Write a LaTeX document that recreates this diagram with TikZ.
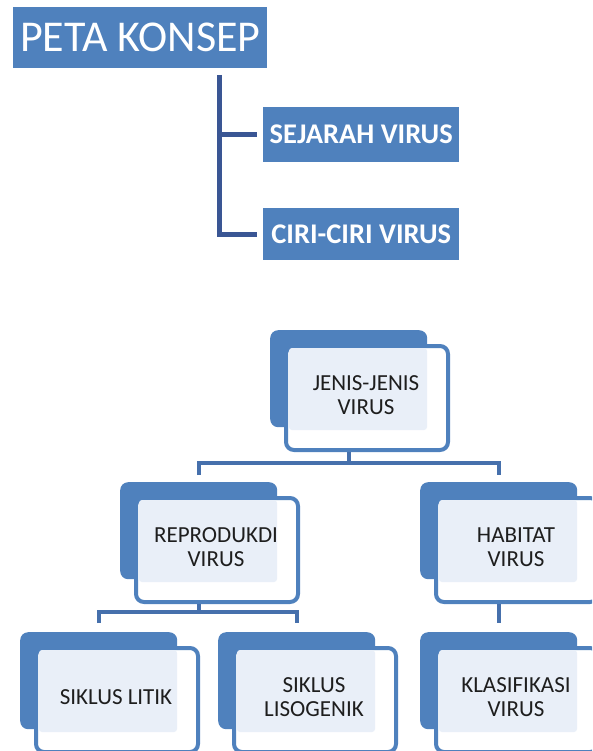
\documentclass[tikz,border=0pt]{standalone}
\usepackage{fontspec}
\setmainfont{Carlito}
\definecolor{obBlue}{HTML}{4F81BD}
\definecolor{navyLine}{HTML}{3A5694}
\definecolor{connBlue}{HTML}{4670AC}
\definecolor{paleFill}{HTML}{E9EFF8}
\definecolor{txtDark}{HTML}{1E1E1E}
\tikzset{
  topbox/.style={fill=obBlue, text=white, inner sep=0pt, anchor=north west},
  backbox/.style={fill=obBlue, rounded corners=8pt, minimum width=157pt, minimum height=97pt, inner sep=0pt, anchor=north west},
  frontbox/.style={draw=obBlue, line width=4pt, fill=white, rounded corners=8pt, minimum width=162pt, minimum height=104pt, inner sep=0pt, anchor=north west},
  innerfill/.style={fill=paleFill, rounded corners=3pt},
  lbl/.style={text=txtDark, font=\fontsize{23}{24.5}\selectfont, align=center, inner sep=0pt},
  topconn/.style={draw=navyLine, line width=5pt},
  conn/.style={draw=connBlue, line width=4pt},
}
\newcommand\stackbox[4]{%
  \node[backbox] (#1B) at (#2,#3) {};
  \node[frontbox] (#1) at (#2+14,#3+14) {};
  \fill[innerfill] (#2+19,#3+18) rectangle (#2+157,#3+100);
  \node[lbl] (#1T) at (#2+96,#3+65) {#4};
}
\begin{document}
\begin{tikzpicture}[x=1pt,y=-1pt]
\useasboundingbox (0,0) rectangle (592,751);
\clip (0,0) rectangle (592,751);
% top part
\node[topbox, minimum width=254pt, minimum height=61pt, font=\fontsize{44}{44}\selectfont] (title) at (13,7) {PETA KONSEP};
\node[topbox, minimum width=196pt, minimum height=55pt, font=\bfseries\fontsize{28.5}{28.5}\selectfont] (sejarah) at (263,107) {SEJARAH VIRUS};
\node[topbox, minimum width=196pt, minimum height=52pt, font=\bfseries\fontsize{28.5}{28.5}\selectfont] (ciri) at (263,208) {CIRI-CIRI VIRUS};
\coordinate (spine) at (219,75);
\draw[topconn] (spine) |- ([xshift=-6pt]ciri.west);
\draw[topconn] (spine |- sejarah.west) -- ([xshift=-6pt]sejarah.west);
% lower hierarchy
\stackbox{jenis}{270}{330}{JENIS-JENIS\\VIRUS}
\stackbox{repro}{120}{482}{REPRODUKDI\\VIRUS}
\stackbox{habitat}{420}{482}{HABITAT\\VIRUS}
\stackbox{litik}{20}{632}{SIKLUS LITIK}
\stackbox{liso}{218}{632}{SIKLUS\\LISOGENIK}
\stackbox{klas}{420}{632}{KLASIFIKASI\\VIRUS}
% connectors
\draw[conn] (jenisB.center |- jenis.south) -- ([yshift=19pt]jenisB.center |- reproB.north);
\draw[conn] ([yshift=7pt]reproB.north) |- ([yshift=19pt]habitatB.north) -- ([yshift=7pt]habitatB.north);
\draw[conn] (reproB.center |- repro.south) -- ([yshift=20pt]reproB.center |- litikB.north);
\draw[conn] ([yshift=9pt]litikB.north) |- ([yshift=20pt]lisoB.north) -- ([yshift=9pt]lisoB.north);
\draw[conn] (habitatB.center |- habitat.south) -- ([yshift=9pt]klasB.north);
\end{tikzpicture}
\end{document}
